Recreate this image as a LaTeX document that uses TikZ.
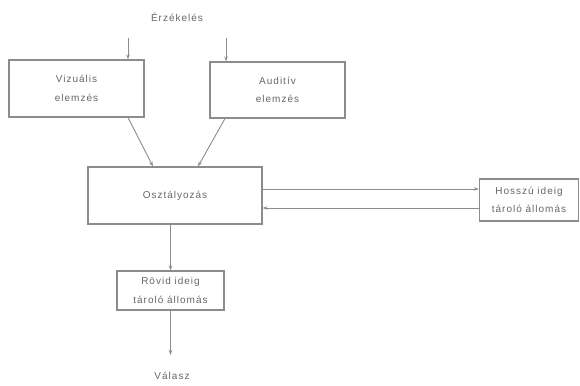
\documentclass[tikz,border=0pt]{standalone}
\usepackage{fontspec}
\setmainfont{Liberation Sans}[LetterSpace=10]
\usetikzlibrary{arrows.meta}

\begin{document}
\begin{tikzpicture}[x=1pt,y=-1pt,
    boxnode/.style={rectangle, draw=black!45, line width=1.1pt, text=black!60, align=center, inner sep=0pt},
    labelnode/.style={text=black!60, inner sep=0pt},
    link/.style={draw=black!45, line width=0.9pt, -{Stealth[length=5pt,width=3.5pt]}},
    font=\fontsize{10}{18.5}\selectfont
   ]
   \useasboundingbox (0,0) rectangle (580,385);
   \node[labelnode] (erzekeles) at (177,17) {Érzékelés};
   \node[boxnode, minimum width=135pt, minimum height=57pt] (vizualis) at (76.5,88.5) {Vizuális\\elemzés};
   \node[boxnode, minimum width=135pt, minimum height=56pt] (auditiv) at (277.5,90) {Auditív\\elemzés};
   \node[boxnode, minimum width=174pt, minimum height=57pt] (osztalyozas) at (175,195.5) {Osztályozás};
   \node[boxnode, minimum width=99pt, minimum height=42pt] (hosszu) at (529,200) {Hosszú ideig\\tároló állomás};
   \node[boxnode, minimum width=107pt, minimum height=39pt] (rovid) at (170.5,290.5) {Rövid ideig\\tároló állomás};
   \node[labelnode] (valasz) at (172,376) {Válasz};
   \coordinate (inviz) at (128,38);
   \coordinate (inaud) at (226,38);
   \coordinate (out) at (172,355);

  \draw[link] (inviz) -- (inviz |- vizualis.north);
  \draw[link] (inaud) -- (inaud |- auditiv.north);
  \draw[link] ([xshift=51.5pt]vizualis.south) -- ([xshift=-22pt]osztalyozas.north);
  \draw[link] ([xshift=-52.5pt]auditiv.south) -- ([xshift=23pt]osztalyozas.north);
  \draw[link] ([yshift=6.5pt]osztalyozas.east) -- ([yshift=6.5pt]osztalyozas.east -| hosszu.west);
  \draw[link] ([yshift=-12.5pt]osztalyozas.east -| hosszu.west) -- ([yshift=-12.5pt]osztalyozas.east);
  \draw[link] (osztalyozas.south -| rovid.north) -- (rovid.north);
  \draw[link] (rovid.south) -- (out -| rovid.south);
 \end{tikzpicture}
\end{document}
